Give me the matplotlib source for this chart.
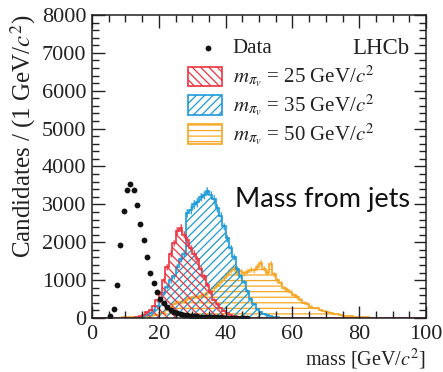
import numpy as np
import matplotlib
matplotlib.use("Agg")
import matplotlib.pyplot as plt
from matplotlib.patches import Rectangle
from matplotlib.ticker import MultipleLocator

plt.rcParams['font.family'] = ['Liberation Serif', 'DejaVu Serif']
plt.rcParams['mathtext.fontset'] = 'stix'
plt.rcParams['hatch.linewidth'] = 0.9

# data points (1 GeV bins)
data_x = np.arange(5.5, 47.5, 1.0)
data_y = [50, 230, 870, 1940, 2830, 3380, 3550, 3390, 2990, 2470,
          2060, 1620, 1180, 930, 690, 510, 400, 300, 220, 170,
          140, 110, 90, 75, 60, 50, 42, 36, 30, 25,
          20, 18, 15, 13, 11, 9, 8, 7, 6, 5, 5, 4]

# signal histograms, 1 GeV bins from 0 to 100
edges = np.arange(0, 101, 1)

red_start = 11
red_vals = [5, 10, 25, 50, 90, 150, 220, 320, 470, 650,
            1000, 1350, 1700, 1980, 2300, 2380, 2200, 2050, 1850, 1700,
            1550, 1300, 1100, 880, 680, 480, 360, 260, 180, 120,
            80, 50, 30, 18, 10, 6, 4, 2]

blue_start = 13
blue_vals = [10, 20, 40, 80, 140, 210, 320, 470, 650, 830,
             1000, 1100, 1350, 1550, 1700, 2780, 2850, 3000, 3050, 3200,
             3250, 3350, 3250, 3130, 2900, 2700, 2420, 2100, 1850, 1600,
             1300, 1100, 950, 700, 500, 370, 240, 150, 100, 70,
             40, 25, 15, 10, 6, 4, 2]

orange_start = 0
orange_vals = [10, 10, 10, 10, 10, 10, 10, 12, 12, 14,
               15, 16, 18, 20, 22, 30, 40, 50, 70, 90,
               120, 160, 220, 300, 380, 430, 420, 450, 500, 540,
               560, 560, 580, 620, 650, 720, 780, 880, 950, 1050,
               1150, 1250, 1320, 1200, 1230, 1180, 1220, 1280, 1260, 1350,
               1450, 1300, 1200, 1430, 1150, 1000, 920, 800, 740, 680,
               600, 560, 480, 400, 380, 300, 260, 260, 200, 180,
               170, 140, 100, 110, 80, 60, 40, 60, 30, 20,
               20, 15, 20, 12, 10, 10, 8, 10, 6, 6,
               5, 5, 4, 6, 10, 4, 3, 3, 2, 2]


def full(start, vals):
    h = np.zeros(len(edges) - 1)
    h[start:start + len(vals)] = vals
    return h


hists = [
    (full(red_start, red_vals), '#ee3340', '\\\\\\\\', 25),
    (full(blue_start, blue_vals), '#1b9ad8', '////', 35),
    (full(orange_start, orange_vals), '#f6a623', '---', 50),
]

fig = plt.figure(figsize=(4.43, 3.72), dpi=100)
ax = fig.add_axes([0.2077, 0.1452, 0.754, 0.8145])

centers = 0.5 * (edges[:-1] + edges[1:])
for vals, col, hatch, m in hists[::-1]:
    ax.fill_between(edges, np.append(vals, vals[-1]), step='post',
                    facecolor='none', edgecolor=col, hatch=hatch, lw=0)
    ax.stairs(vals, edges, color=col, lw=1.2)
    err = 2.0 * np.sqrt(vals)
    ax.bar(centers, 2 * err, bottom=vals - err, width=0.6,
           color=col, alpha=0.35, lw=0)
    ax.vlines(centers, vals - err, vals + err, color=col, lw=0.8, alpha=0.8)

ax.plot(data_x, data_y, 'o', color='#111111', ms=4.2, mec='none')

ax.set_xlim(0, 100)
ax.set_ylim(0, 8000)
ax.xaxis.set_major_locator(MultipleLocator(20))
ax.xaxis.set_minor_locator(MultipleLocator(5))
ax.yaxis.set_major_locator(MultipleLocator(1000))
ax.yaxis.set_minor_locator(MultipleLocator(200))
ax.tick_params(which='both', direction='in', top=True, right=True,
               labelsize=16, colors='#222222', width=1)
ax.tick_params(which='major', length=9)
ax.tick_params(which='minor', length=5)
ax.tick_params(axis='x', pad=5)
ax.tick_params(axis='y', pad=4)
for s in ax.spines.values():
    s.set_linewidth(1.1)
    s.set_color('#222222')

ax.set_ylabel('Candidates / (1 GeV/$c^2$)', fontsize=18, loc='top',
              labelpad=3, color='#222222')
ax.set_xlabel('mass [GeV/$c^2$]', fontsize=14.5, loc='right', labelpad=2,
              color='#222222')

# legend drawn by hand
tr = ax.transAxes
ax.plot([0.346], [0.891], 'o', color='#111111', ms=4.2, mec='none',
        transform=tr, clip_on=False)
ax.text(0.421, 0.891, 'Data', transform=tr, fontsize=15, va='center',
        color='#222222')
rows = [0.797, 0.702, 0.607]
for (vals, col, hatch, m), yy in zip(hists, rows):
    ax.add_patch(Rectangle((0.288, yy - 0.033), 0.1, 0.066, transform=tr,
                           facecolor='none', edgecolor=col, hatch=hatch,
                           lw=1.2))
    ax.text(0.421, yy, r'$m_{\pi_{v}}$ = %d GeV/$c^2$' % m, transform=tr,
            fontsize=15, va='center', color='#222222')

ax.text(0.95, 0.891, 'LHCb', transform=tr, fontsize=16.5, ha='right',
        va='center', color='#222222')
ax.text(0.952, 0.39, 'Mass from jets', transform=tr, fontsize=19.5,
        ha='right', va='center', family=['Lato', 'DejaVu Sans'],
        color='#111111')

fig.savefig('out.png', dpi=100)
